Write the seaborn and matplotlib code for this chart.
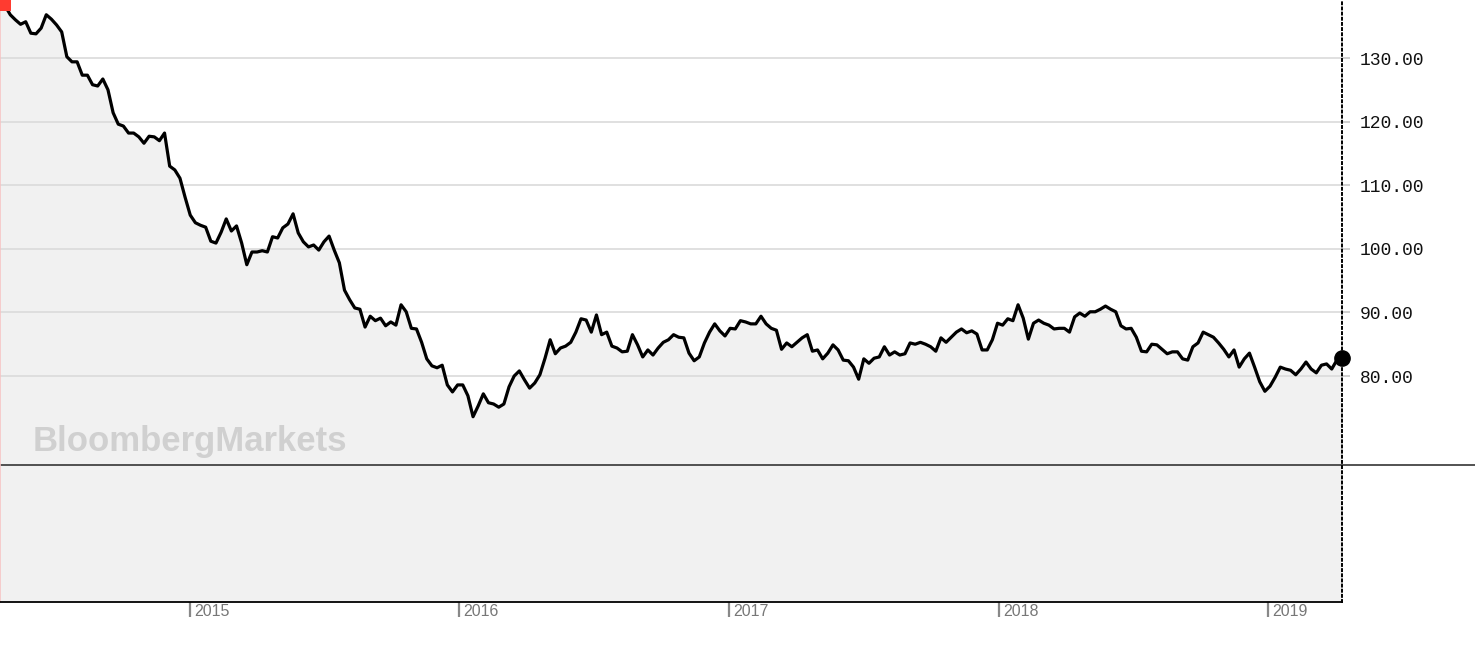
import pandas as pd
import seaborn as sns
import matplotlib.pyplot as plt
from matplotlib.patches import Rectangle

# Weekly closing values (April 2014 - April 2019)
price_2014 = [137.9, 138.2, 136.8, 136.0, 135.3, 135.7, 133.9, 133.8, 134.7, 136.8,
              136.1, 135.2, 134.1, 130.2, 129.4, 129.4, 127.3, 127.3, 125.8, 125.6,
              126.7, 125.0, 121.4, 119.6, 119.3, 118.2, 118.2, 117.6, 116.6, 117.7,
              117.6, 117.0, 118.2, 113.0, 112.4, 111.1, 108.1, 105.3, 104.1]
price_2015 = [103.7, 103.4, 101.2, 100.9, 102.6, 104.7, 102.8, 103.6, 100.9, 97.5,
              99.5, 99.5, 99.7, 99.5, 101.9, 101.7, 103.3, 103.9, 105.5, 102.5,
              101.1, 100.3, 100.6, 99.8, 101.1, 102.0, 99.8, 97.8, 93.5, 92.0,
              90.7, 90.5, 87.7, 89.4, 88.7, 89.1, 87.9, 88.5]
price_2016a = [88.0, 91.2, 90.1, 87.5, 87.4, 85.3, 82.7, 81.6, 81.3, 81.7,
               78.6, 77.5, 78.6, 78.6, 76.9, 73.6, 75.3, 77.2, 75.8, 75.6,
               75.1, 75.6, 78.3, 80.0, 80.8, 79.4, 78.1, 78.9, 80.2, 82.8,
               85.7, 83.5, 84.4, 84.7, 85.3, 86.9, 89.0]
price_2016b = [88.8, 86.9, 89.6, 86.5, 86.9, 84.7, 84.4, 83.8, 83.9, 86.5,
               84.9, 83.0, 84.1, 83.3, 84.4, 85.3, 85.7, 86.5, 86.1, 86.0,
               83.6, 82.4, 83.0, 85.2, 86.9, 88.2, 87.1, 86.3, 87.5, 87.4,
               88.7, 88.5, 88.2, 88.2, 89.4, 88.2, 87.5]
price_2017 = [87.2, 84.2, 85.2, 84.6, 85.3, 86.0, 86.5, 83.9, 84.1, 82.7,
              83.6, 84.9, 84.1, 82.5, 82.4, 81.4, 79.5, 82.7, 82.0, 82.8,
              83.0, 84.6, 83.3, 83.8, 83.3, 83.5, 85.2, 85.0, 85.3, 85.0,
              84.6, 83.9, 86.0, 85.3, 86.1, 86.9]
price_2018 = [87.4, 86.8, 87.1, 86.6, 84.1, 84.1, 85.7, 88.3, 88.0, 89.0,
              88.7, 91.2, 89.1, 85.8, 88.3, 88.8, 88.3, 88.0, 87.4, 87.5,
              87.5, 86.9, 89.3, 89.9, 89.4, 90.1, 90.1, 90.5, 91.0, 90.5,
              90.1, 87.9, 87.4, 87.5, 86.1, 83.9, 83.8]
price_2019 = [85.0, 84.9, 84.2, 83.5, 83.8, 83.8, 82.7, 82.5, 84.6, 85.2,
              86.9, 86.5, 86.1, 85.2, 84.2, 83.0, 84.1, 81.4, 82.7, 83.6,
              81.4, 79.1, 77.6, 78.4, 79.8, 81.4, 81.1, 80.9, 80.2, 81.1,
              82.2, 81.1, 80.5, 81.7, 81.9, 81.1, 82.5, 82.8]

price = price_2014 + price_2015 + price_2016a + price_2016b + price_2017 + price_2018 + price_2019
dates = pd.date_range(start='2014-04-19', end='2019-04-11', periods=len(price))
df = pd.DataFrame({'date': dates, 'price': price})

year_labels = ['2015', '2016', '2017', '2018', '2019']
y_ticks = [80, 90, 100, 110, 120, 130]
y_labels = ['80.00', '90.00', '100.00', '110.00', '120.00', '130.00']
baseline = 66.0

sns.set_theme(style='white')

fig = plt.figure(figsize=(14.75, 6.54), dpi=100)
ax = fig.add_axes([0, 52 / 654, 1342 / 1475, 602 / 654])
y_min, y_max = 44.47, 139.12

# grey area under the line
ax.fill_between(df['date'], df['price'], y_min, color='#f1f1f1', lw=0, zorder=0.2)
sns.lineplot(data=df, x='date', y='price', color='black', lw=2.3, ax=ax, zorder=3)
ax.plot(df['date'].iloc[-1], df['price'].iloc[-1], 'o', ms=11, color='black',
        clip_on=False, zorder=5)

# reference line that runs past the plot to the figure edge
ax.axhline(baseline, xmin=0, xmax=1475 / 1342, color='#444444', lw=1.3,
           clip_on=False, zorder=2)

ax.set_xlim(df['date'].iloc[0], df['date'].iloc[-1])
ax.set_ylim(y_min, y_max)
ax.set_xlabel('')
ax.set_ylabel('')

# y axis on the right
ax.yaxis.tick_right()
ax.set_yticks(y_ticks, labels=y_labels, fontfamily='Liberation Mono', fontsize=13)
ax.tick_params(axis='y', right=True, left=False, length=6, width=1.3,
               color='#cccccc', pad=7, labelcolor='#111111')
ax.set_axisbelow(True)
ax.yaxis.grid(True, color='#dddddd', lw=1.3)
ax.xaxis.grid(False)

# x axis: year ticks with labels to the right of the tick
year_dates = pd.to_datetime([y + '-01-01' for y in year_labels])
ax.set_xticks(year_dates, labels=[''] * len(year_dates))
ax.tick_params(axis='x', bottom=True, length=10.5, width=1.6, color='#888888',
               direction='out')
for d, lab in zip(year_dates, year_labels):
    ax.annotate(lab, xy=(d, 0), xycoords=('data', 'axes fraction'),
                xytext=(3, -1.5), textcoords='offset points', ha='left', va='top',
                fontsize=11.5, color='#777777', family='Liberation Sans')

ax.spines['top'].set_visible(False)
ax.spines['left'].set_color('#f5c4c4')
ax.spines['left'].set_linewidth(1.2)
ax.spines['bottom'].set_color('black')
ax.spines['bottom'].set_linewidth(1.3)
ax.spines['right'].set_color('black')
ax.spines['right'].set_linewidth(1.4)
ax.spines['right'].set_linestyle(':')

# red handle in the top-left corner
fig.add_artist(Rectangle((0, 1 - 11 / 654), 11 / 1475, 11 / 654,
                         transform=fig.transFigure, color='#ff3b30', lw=0))

# watermark
fig.text(33 / 1475, 1 - 451 / 654, 'BloombergMarkets', fontsize=25, fontweight='bold',
         color='#d0d0d0', family='Liberation Sans', ha='left', va='baseline')

fig.savefig('out.png', dpi=100)
